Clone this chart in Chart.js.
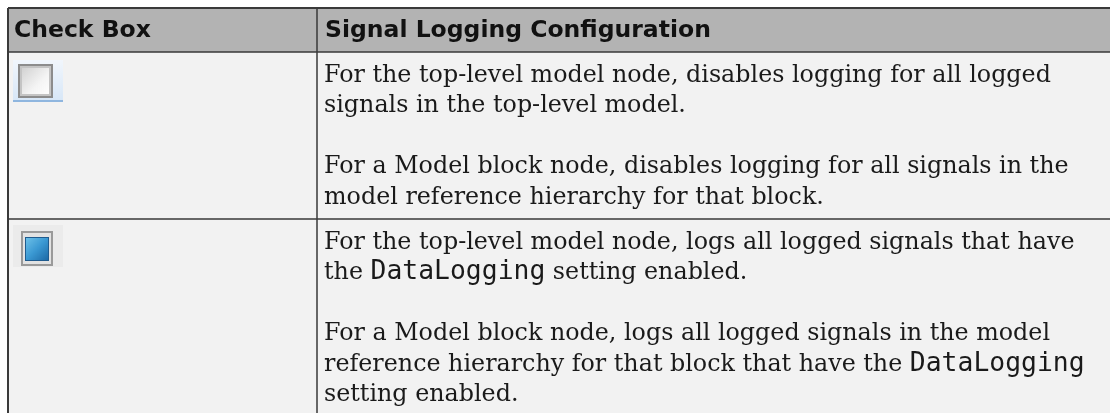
<!DOCTYPE html>
<html>
<head>
<meta charset="utf-8">
<script src="https://cdn.jsdelivr.net/npm/chart.js@4.4.1/dist/chart.umd.min.js"></script>
<style>
  html, body { margin: 0; padding: 0; background: #ffffff; }
  #wrap { width: 1110px; height: 413px; }
</style>
</head>
<body>
<div id="wrap"><canvas id="tableChart" width="1110" height="413"></canvas></div>
<script>
// table content
const headers = ['Check Box', 'Signal Logging Configuration'];
const checkStates = ['cleared', 'checked'];
// each row: paragraphs, each paragraph: wrapped lines; `...` marks code font
const descriptions = [
    [
        ['For the top-level model node, disables logging for all logged',
         'signals in the top-level model.'],
        ['For a Model block node, disables logging for all signals in the',
         'model reference hierarchy for that block.']
    ],
    [
        ['For the top-level model node, logs all logged signals that have',
         'the `DataLogging` setting enabled.'],
        ['For a Model block node, logs all logged signals in the model',
         'reference hierarchy for that block that have the `DataLogging`',
         'setting enabled.']
    ]
];

// layout (pixels)
const W = 1110, H = 413;
const tableLeft = 8, tableTop = 8, headerBottom = 52, colSplit = 317;
const rowTops = [52, 219];
const rowBottoms = [219, 440];
const iconOffsets = [29, 27];
const lineHeight = 30.5;
const firstBaseline = 29.5;
const textPadX = 7;

const headerFont = 'bold 23.5px "DejaVu Sans"';
const bodyFont = '23.8px "DejaVu Serif"';
const codeFont = '26.4px "DejaVu Sans Mono"';

// checkbox icons as point styles
function makeIcon(state) {
    const c = document.createElement('canvas');
    c.width = 50; c.height = 42;
    const g = c.getContext('2d');
    if (state === 'cleared') {
        let bg = g.createLinearGradient(0, 0, 0, 42);
        bg.addColorStop(0, '#f1f6fc');
        bg.addColorStop(1, '#d6e6f7');
        g.fillStyle = bg;
        g.fillRect(0, 0, 50, 40);
        g.fillStyle = '#8fb6df';
        g.fillRect(0, 40, 50, 2);
        g.fillStyle = '#8c8c8c';
        g.fillRect(5, 4, 35, 34);
        g.fillStyle = '#c4c4c4';
        g.fillRect(7, 6, 31, 30);
        let inner = g.createLinearGradient(8, 7, 37, 35);
        inner.addColorStop(0, '#d0d0d0');
        inner.addColorStop(0.6, '#f4f4f4');
        inner.addColorStop(1, '#ffffff');
        g.fillStyle = inner;
        g.fillRect(9, 8, 27, 26);
    } else {
        g.fillStyle = '#ebebeb';
        g.fillRect(0, 0, 50, 42);
        g.fillStyle = '#9a9a9a';
        g.fillRect(8, 6, 32, 35);
        g.fillStyle = '#e2e2e2';
        g.fillRect(10, 8, 28, 31);
        g.fillStyle = '#1f5b8e';
        g.fillRect(12, 12, 24, 24);
        let blue = g.createLinearGradient(13, 13, 35, 35);
        blue.addColorStop(0, '#6cc0e8');
        blue.addColorStop(0.5, '#3a98d2');
        blue.addColorStop(1, '#1d6aa6');
        g.fillStyle = blue;
        g.fillRect(13, 13, 22, 22);
    }
    return c;
}

const iconPoints = checkStates.map((s, i) => ({ x: 38, y: rowTops[i] + iconOffsets[i] }));
const iconStyles = checkStates.map(makeIcon);

function drawRich(ctx, text, x, y) {
    const parts = text.split('`');
    parts.forEach((p, i) => {
        ctx.font = i % 2 ? codeFont : bodyFont;
        ctx.fillText(p, x, y);
        x += ctx.measureText(p).width;
    });
}

const tablePlugin = {
    id: 'tablePlugin',
    beforeDatasetsDraw(chart) {
        const ctx = chart.ctx;
        const xs = chart.scales.x, ys = chart.scales.y;
        const px = v => xs.getPixelForValue(v);
        const py = v => ys.getPixelForValue(v);
        ctx.save();
        // backgrounds
        ctx.fillStyle = '#b3b3b3';
        ctx.fillRect(px(tableLeft), py(tableTop), px(W) - px(tableLeft), py(headerBottom) - py(tableTop));
        ctx.fillStyle = '#f2f2f2';
        ctx.fillRect(px(tableLeft), py(headerBottom), px(W) - px(tableLeft), py(H) - py(headerBottom));

        // grid lines
        ctx.strokeStyle = '#3a3a3a';
        ctx.lineWidth = 2;
        ctx.beginPath();
        ctx.moveTo(px(tableLeft), py(tableTop)); ctx.lineTo(px(W), py(tableTop));
        ctx.moveTo(px(tableLeft), py(tableTop)); ctx.lineTo(px(tableLeft), py(H));
        ctx.stroke();
        ctx.lineWidth = 1.5;
        ctx.beginPath();
        ctx.moveTo(px(colSplit), py(tableTop)); ctx.lineTo(px(colSplit), py(H));
        ctx.moveTo(px(tableLeft), py(headerBottom)); ctx.lineTo(px(W), py(headerBottom));
        rowBottoms.forEach(b => {
            ctx.moveTo(px(tableLeft), py(b)); ctx.lineTo(px(W), py(b));
        });
        ctx.stroke();

        // header text
        ctx.fillStyle = '#111111';
        ctx.textBaseline = 'alphabetic';
        ctx.font = headerFont;
        ctx.fillText(headers[0], px(tableLeft + 6), py(tableTop + 29));
        ctx.fillText(headers[1], px(colSplit + 8), py(tableTop + 29));

        // body text
        ctx.fillStyle = '#1a1a1a';
        descriptions.forEach((paras, r) => {
            let y = rowTops[r] + firstBaseline;
            paras.forEach((lines, k) => {
                if (k > 0) y += lineHeight;
                lines.forEach(line => {
                    drawRich(ctx, line, px(colSplit + textPadX), py(y));
                    y += lineHeight;
                });
            });
        });
        ctx.restore();
    }
};

new Chart(document.getElementById('tableChart'), {
    type: 'scatter',
    data: {
        datasets: [{
            label: 'Check Box',
            data: iconPoints,
            pointStyle: iconStyles,
            pointRadius: 22,
            pointHoverRadius: 22
        }]
    },
    options: {
        responsive: false,
        animation: false,
        devicePixelRatio: 1,
        layout: { padding: 0, autoPadding: false },
        plugins: {
            legend: { display: false },
            tooltip: { enabled: false }
        },
        events: [],
        scales: {
            x: { type: 'linear', min: 0, max: W, display: false },
            y: { type: 'linear', min: 0, max: H, reverse: true, display: false }
        }
    },
    plugins: [tablePlugin]
});
</script>
</body>
</html>
